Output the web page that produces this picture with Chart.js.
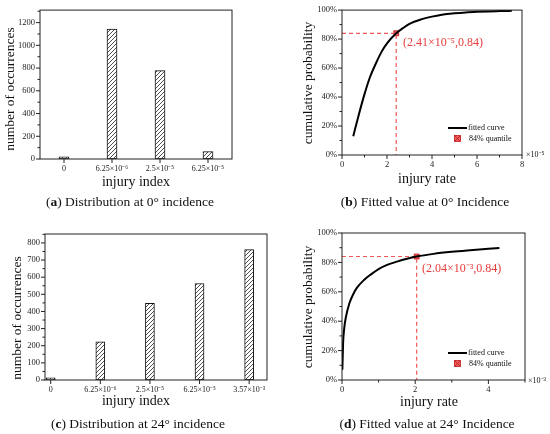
<!DOCTYPE html>
<html>
<head>
<meta charset="utf-8">
<script src="https://cdn.jsdelivr.net/npm/chart.js@4.4.1/dist/chart.umd.min.js"></script>
<style>
  body { margin: 0; background: #fff; }
  #page { position: relative; width: 550px; height: 434px; overflow: hidden; }
  .panel { position: absolute; width: 275px; height: 217px; }
  .panel canvas { position: absolute; left: 0; top: 0; }
  .cap { position: absolute; font-family: "Liberation Serif", serif; font-size: 13.5px; color: #111;
         white-space: nowrap; transform: translate(-50%, -50%); }
</style>
</head>
<body>
<div id="page">
  <div class="panel" style="left:0;top:0"><canvas id="chA" width="275" height="217"></canvas>
    <div class="cap" style="left:130px;top:202px">(<b>a</b>) Distribution at 0° incidence</div></div>
  <div class="panel" style="left:275px;top:0"><canvas id="chB" width="275" height="217"></canvas>
    <div class="cap" style="left:150px;top:202px">(<b>b</b>) Fitted value at 0° Incidence</div></div>
  <div class="panel" style="left:0;top:217px"><canvas id="chC" width="275" height="217"></canvas>
    <div class="cap" style="left:138px;top:207px">(<b>c</b>) Distribution at 24° incidence</div></div>
  <div class="panel" style="left:275px;top:217px"><canvas id="chD" width="275" height="217"></canvas>
    <div class="cap" style="left:152px;top:207px">(<b>d</b>) Fitted value at 24° Incidence</div></div>
</div>
<script>
// данные гистограмм
const catsA = ['0', '6.25×10⁻⁶', '2.5×10⁻⁵', '6.25×10⁻⁵'];
const countsA = [20, 1143, 777, 65];
const catsC = ['0', '6.25×10⁻⁶', '2.5×10⁻⁵', '6.25×10⁻⁵', '3.57×10⁻³'];
const countsC = [12, 223, 447, 563, 761];

// подобранные кривые (x в единицах 10^-5 и 10^-3, y в %)
const rateB = [0.5, 0.75, 1.0, 1.25, 1.5, 1.75, 2.0, 2.41, 2.75, 3.0, 3.5, 4.0, 4.5, 5.0, 5.5, 6.0, 6.5, 7.0, 7.55];
const probB = [13, 28, 42, 54, 63, 71, 77, 84, 88, 90.5, 93.5, 95.5, 97, 97.8, 98.4, 98.8, 99.1, 99.3, 99.5];
const rateD = [0.01, 0.03, 0.06, 0.1, 0.2, 0.3, 0.4, 0.6, 0.8, 1.0, 1.25, 1.5, 1.75, 2.04, 2.5, 3.0, 3.5, 4.0, 4.3];
const probD = [7, 25, 35, 42, 52, 58, 62.5, 68, 72, 75.5, 78.5, 80.5, 82.3, 84, 85.8, 87.2, 88.3, 89.3, 89.8];
const quantB = [2.41, 84];
const quantD = [2.04, 84];

// подписи делений
const yTicksA = [0, 200, 400, 600, 800, 1000, 1200];
const yTicksC = [0, 100, 200, 300, 400, 500, 600, 700, 800];
const pctTicks = [0, 20, 40, 60, 80, 100];
const xTicksB = [0, 2, 4, 6, 8];
const xTicksD = [0, 2, 4];

Chart.defaults.font.family = '"Liberation Serif", serif';
Chart.defaults.font.size = 8.5;
Chart.defaults.color = '#222';

const RED = 'rgb(232, 60, 60)';

// штриховка для столбцов
function hatch() {
  const c = document.createElement('canvas');
  c.width = 4; c.height = 4;
  const g = c.getContext('2d');
  g.fillStyle = '#fff'; g.fillRect(0, 0, 4, 4);
  g.strokeStyle = '#222'; g.lineWidth = 0.8;
  g.beginPath();
  g.moveTo(0, 4); g.lineTo(4, 0);
  g.moveTo(-1, 1); g.lineTo(1, -1);
  g.moveTo(3, 5); g.lineTo(5, 3);
  g.stroke();
  return g.createPattern(c, 'repeat');
}

function qMarker(ctx, x, y) {
  ctx.save();
  ctx.fillStyle = 'rgba(235, 80, 80, 0.9)';
  ctx.strokeStyle = 'rgb(190, 20, 20)';
  ctx.lineWidth = 0.8;
  ctx.fillRect(x - 3, y - 3, 6, 6);
  ctx.strokeRect(x - 3, y - 3, 6, 6);
  ctx.beginPath();
  ctx.moveTo(x - 2.5, y - 2.5); ctx.lineTo(x + 2.5, y + 2.5);
  ctx.moveTo(x + 2.5, y - 2.5); ctx.lineTo(x - 2.5, y + 2.5);
  ctx.stroke();
  ctx.restore();
}

// рамка, мелкие деления, подписи осей, легенда
const deco = {
  id: 'deco',
  afterDraw(chart, args, o) {
    const ctx = chart.ctx, a = chart.chartArea;
    ctx.save();
    ctx.strokeStyle = '#222';
    ctx.lineWidth = 1;
    ctx.strokeRect(a.left, a.top, a.right - a.left, a.bottom - a.top);
    ['x', 'y'].forEach(id => {
      const s = chart.scales[id];
      const vals = s.ticks.map(t => t.value);
      const minor = [];
      if (o.minor && o.minor[id]) {
        for (let i = 0; i < vals.length; i++) {
          const step = i < vals.length - 1 ? vals[i + 1] - vals[i] : vals[i] - vals[i - 1];
          const m = vals[i] + step / 2;
          if (m <= s.max) minor.push(m);
        }
      }
      ctx.beginPath();
      vals.forEach(v => {
        const p = s.getPixelForValue(v);
        if (id === 'x') { ctx.moveTo(p, a.bottom); ctx.lineTo(p, a.bottom + 4); }
        else { ctx.moveTo(a.left, p); ctx.lineTo(a.left - 4, p); }
      });
      minor.forEach(v => {
        const p = s.getPixelForValue(v);
        if (id === 'x') { ctx.moveTo(p, a.bottom); ctx.lineTo(p, a.bottom + 2.5); }
        else { ctx.moveTo(a.left, p); ctx.lineTo(a.left - 2.5, p); }
      });
      ctx.stroke();
    });

    ctx.fillStyle = '#111';
    ctx.textAlign = 'center';
    ctx.textBaseline = 'middle';
    ctx.font = '14px "Liberation Serif", serif';
    ctx.fillText(o.xTitle[0], o.xTitle[1], o.xTitle[2]);
    ctx.save();
    ctx.translate(o.yTitle[1], o.yTitle[2]);
    ctx.rotate(-Math.PI / 2);
    ctx.font = '13.5px "Liberation Serif", serif';
    ctx.fillText(o.yTitle[0], 0, 0);
    ctx.restore();

    if (o.expo) {
      ctx.font = '8px "Liberation Serif", serif';
      ctx.textAlign = 'left';
      ctx.fillText(o.expo[0], o.expo[1], o.expo[2]);
    }
    if (o.note) {
      ctx.font = '12px "Liberation Serif", serif';
      ctx.textAlign = 'left';
      ctx.fillStyle = RED;
      ctx.fillText(o.note[0], o.note[1], o.note[2]);
    }
    if (o.legend) {
      const [lx, ly] = o.legend;
      ctx.strokeStyle = '#000';
      ctx.lineWidth = 2;
      ctx.beginPath(); ctx.moveTo(lx, ly); ctx.lineTo(lx + 19, ly); ctx.stroke();
      qMarker(ctx, lx + 9.5, ly + 10.5);
      ctx.fillStyle = '#111';
      ctx.font = '8px "Liberation Serif", serif';
      ctx.textAlign = 'left';
      ctx.fillText('fitted curve', lx + 20, ly);
      ctx.fillText('84% quantile', lx + 21, ly + 10.5);
    }
    ctx.restore();
  }
};

function boxLayout(box) {
  return { padding: { left: 0, top: box.t, right: 275 - box.r, bottom: 0 } };
}

function makeBar(id, cats, counts, yTicks, yMax, xMin, xMax, box, barW, titles) {
  new Chart(document.getElementById(id), {
    type: 'bar',
    data: {
      datasets: [{
        data: counts.map((v, i) => ({ x: i, y: v })),
        backgroundColor: hatch(),
        borderColor: '#111',
        borderWidth: 1,
        borderSkipped: false,
        barThickness: barW
      }]
    },
    options: {
      responsive: false, animation: false,
      layout: boxLayout(box),
      plugins: {
        legend: { display: false }, tooltip: { enabled: false },
        deco: { minor: { y: true }, xTitle: titles.x, yTitle: titles.y }
      },
      scales: {
        x: {
          type: 'linear', min: xMin, max: xMax, offset: false,
          grid: { display: false, drawTicks: false }, border: { display: false },
          afterBuildTicks: s => { s.ticks = cats.map((c, i) => ({ value: i })); },
          afterFit: s => { s.height = 217 - box.b; },
          ticks: { padding: 5, maxRotation: 0, autoSkip: false, font: { size: 8 }, callback: v => cats[v] }
        },
        y: {
          min: 0, max: yMax,
          grid: { display: false, drawTicks: false }, border: { display: false },
          afterBuildTicks: s => { s.ticks = yTicks.map(v => ({ value: v })); },
          afterFit: s => { s.width = box.l; },
          ticks: { padding: 5, callback: v => String(v) }
        }
      }
    },
    plugins: [deco]
  });
}

function makeCdf(id, rate, prob, q, xTicks, xMax, box, deco_o) {
  new Chart(document.getElementById(id), {
    type: 'line',
    data: {
      datasets: [{
        data: rate.map((x, i) => ({ x: x, y: prob[i] })),
        borderColor: '#000', borderWidth: 2, pointRadius: 0,
        tension: 0.4, cubicInterpolationMode: 'monotone'
      }, {
        data: [{ x: 0, y: q[1] }, { x: q[0], y: q[1] }, { x: q[0], y: 0 }],
        borderColor: 'rgb(240, 90, 90)', borderWidth: 1.2, borderDash: [4, 3],
        pointRadius: 0, tension: 0
      }, {
        data: [{ x: q[0], y: q[1] }],
        showLine: false, pointStyle: 'rect', pointRadius: 3.5,
        backgroundColor: 'rgba(235, 80, 80, 0.9)', borderColor: 'rgb(190, 20, 20)', borderWidth: 0.8
      }, {
        data: [{ x: q[0], y: q[1] }],
        showLine: false, pointStyle: 'crossRot', pointRadius: 3,
        borderColor: 'rgb(190, 20, 20)', borderWidth: 0.8
      }]
    },
    options: {
      responsive: false, animation: false,
      layout: boxLayout(box),
      plugins: {
        legend: { display: false }, tooltip: { enabled: false },
        deco: Object.assign({ minor: { x: true, y: true } }, deco_o)
      },
      scales: {
        x: {
          type: 'linear', min: 0, max: xMax,
          grid: { display: false, drawTicks: false }, border: { display: false },
          afterBuildTicks: s => { s.ticks = xTicks.map(v => ({ value: v })); },
          afterFit: s => { s.height = 217 - box.b; },
          ticks: { padding: 5, maxRotation: 0 }
        },
        y: {
          min: 0, max: 100,
          grid: { display: false, drawTicks: false }, border: { display: false },
          afterBuildTicks: s => { s.ticks = pctTicks.map(v => ({ value: v })); },
          afterFit: s => { s.width = box.l; },
          ticks: { padding: 5, callback: v => v + '%' }
        }
      }
    },
    plugins: [deco]
  });
}

makeBar('chA', catsA, countsA, yTicksA, 1310, -0.5, 3.5,
  { l: 40, r: 232, t: 5, b: 159 }, 10,
  { x: ['injury index', 136, 182], y: ['number of occurrences', 10, 89] });

makeBar('chC', catsC, countsC, yTicksC, 852, -0.115, 4.36,
  { l: 45, r: 267, t: 17, b: 163 }, 9,
  { x: ['injury index', 136, 184], y: ['number of occurrences', 17, 101] });

makeCdf('chB', rateB, probB, quantB, xTicksB, 8,
  { l: 67, r: 247, t: 9, b: 155 },
  { xTitle: ['injury rate', 152, 179], yTitle: ['cumulative probability', 33, 83],
    expo: ['×10⁻⁵', 251, 155], note: ['(2.41×10⁻⁵,0.84)', 128, 43], legend: [173, 128] });

makeCdf('chD', rateD, probD, quantD, xTicksD, 5,
  { l: 67, r: 250, t: 16, b: 163 },
  { xTitle: ['injury rate', 154, 185], yTitle: ['cumulative probability', 33, 90],
    expo: ['×10⁻³', 253, 164], note: ['(2.04×10⁻³,0.84)', 147, 52], legend: [173, 136] });
</script>
</body>
</html>
